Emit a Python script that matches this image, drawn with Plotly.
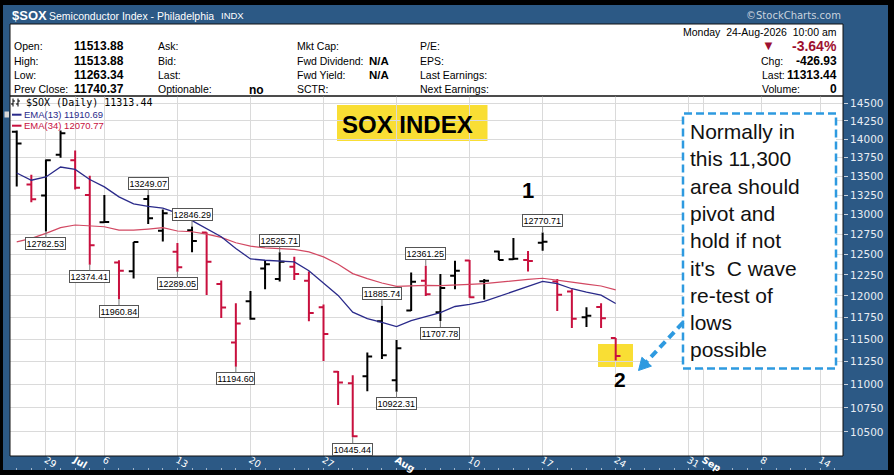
import math
import pandas as pd
import plotly.graph_objects as go

W, H = 894, 475

# daily bars ($SOX, Jun 25 - Aug 24 2026)
dates = ["2026-06-25", "2026-06-26", "2026-06-29", "2026-06-30", "2026-07-01", "2026-07-02",
         "2026-07-06", "2026-07-07", "2026-07-08", "2026-07-09", "2026-07-10",
         "2026-07-13", "2026-07-14", "2026-07-15", "2026-07-16", "2026-07-17",
         "2026-07-20", "2026-07-21", "2026-07-22", "2026-07-23", "2026-07-24",
         "2026-07-27", "2026-07-28", "2026-07-29", "2026-07-30", "2026-07-31",
         "2026-08-03", "2026-08-04", "2026-08-05", "2026-08-06", "2026-08-07",
         "2026-08-10", "2026-08-11", "2026-08-12", "2026-08-13", "2026-08-14",
         "2026-08-17", "2026-08-18", "2026-08-19", "2026-08-20", "2026-08-21",
         "2026-08-24"]
opens = [14100, 13387, 13244, 13786, 13710, 13252,
         12900, 12400, 12293, 13200, 12794,
         12532, 12800, 12770, 12140, 11464,
         11938, 12328, 12200, 12350, 12180,
         11867, 11140, 11014, 11090, 11704,
         11047, 11830, 12180, 11810, 12240,
         12425, 12175, 12534, 12440, 12430,
         12645, 12170, 12053, 11750, 11869,
         11513.88]
highs = [14118, 13517, 13721, 14118, 13843, 13502,
         13252, 12428, 12652, 13249.07, 13062,
         12640, 12846.29, 12775, 12183, 11914,
         12057, 12430, 12525.71, 12470, 12290,
         11900, 11148, 11101, 11350, 11885.74,
         11491, 12280, 12361.25, 12260, 12422,
         12430, 12200, 12545, 12702, 12540,
         12770.71, 12200, 12080, 11866, 11914,
         11513.88]
lows = [13362, 13157, 12782.53, 13743, 13322, 12374.41,
        12895, 11960.84, 12206, 12880, 12660,
        12289.05, 12525, 12010, 11742, 11194.60,
        11722, 12080, 12172, 12190, 11704,
        11256, 10780, 10445.44, 10928, 11280,
        10922.31, 11825, 12000, 11707.78, 12080,
        11980, 11957, 12430, 12432, 12290,
        12546, 11824, 11627, 11640, 11627,
        11263.34]
closes = [13938, 13197, 13710, 14080, 13345, 12614,
          12905, 12300, 12652, 12950, 13015,
          12344, 12664, 12410, 11863, 11679,
          11735, 12380, 12410, 12260, 11800,
          11560, 11021, 10455, 11307, 11320,
          11400, 12168, 12020, 12094, 12300,
          11985, 12180, 12432, 12445, 12420,
          12655, 12015, 11735, 11770, 11740.37,
          11313.44]
ema13 = [13540, 13444, 13488, 13620, 13587, 13454,
         13357, 13226, 13135, 13103, 13081,
         13016, 12921, 12824, 12718, 12573,
         12444, 12428, 12420, 12408, 12300,
         12150, 12006, 11810, 11736, 11693,
         11644, 11713, 11760, 11806, 11876,
         11900, 11935, 11994, 12054, 12113,
         12173, 12145, 12085, 12045, 12010,
         11910.69]
ema34 = [12655, 12698, 12761, 12832, 12866, 12857,
         12844, 12802, 12802, 12815, 12832,
         12790, 12781, 12752, 12711, 12643,
         12602, 12580, 12573, 12561, 12531,
         12469, 12380, 12266, 12206, 12153,
         12113, 12122, 12126, 12122, 12126,
         12137, 12146, 12165, 12185, 12197,
         12210, 12190, 12163, 12140, 12118,
         12070.77]

high_labels = ["2026-07-09", "2026-07-14", "2026-07-22", "2026-07-31", "2026-08-05", "2026-08-17"]
low_labels = ["2026-06-29", "2026-07-02", "2026-07-07", "2026-07-13", "2026-07-17",
              "2026-07-29", "2026-08-03", "2026-08-06"]

tick_dates = ["2026-06-29", "2026-07-01", "2026-07-06", "2026-07-13", "2026-07-20", "2026-07-27",
              "2026-08-03", "2026-08-10", "2026-08-17", "2026-08-24", "2026-08-31", "2026-09-01",
              "2026-09-08", "2026-09-14"]
tick_text = ["29", "<b>Jul</b>", "6", "13", "20", "27", "<b>Aug</b>", "10", "17", "24",
             "31", "<b>Sep</b>", "8", "14"]
price_ticks = list(range(10500, 14501, 250))

holidays = ["2026-07-03", "2026-09-07"]

# trading-day axis (no weekend / holiday gaps)
sessions = [d.strftime("%Y-%m-%d") for d in pd.bdate_range("2026-06-25", "2026-09-16")]
sessions = [d for d in sessions if d not in holidays]
pos = {d: i for i, d in enumerate(sessions)}
xs = [pos[d] for d in dates]

BLUE = "#2c5985"
RED = "#c8103e"
DARKRED = "#9e1030"
NAVY = "#2a2a8a"
ARIAL = "Arial, Liberation Sans, sans-serif"
VERDANA = "DejaVu Sans, Verdana, sans-serif"


def px(x):
    return x / W


def py(y):
    return 1 - y / H


up = [True] + [closes[i] >= closes[i - 1] for i in range(1, len(closes))]

fig = go.Figure()
for flag, col in [(True, "black"), (False, RED)]:
    idx = [i for i in range(len(dates)) if up[i] == flag]
    fig.add_trace(go.Ohlc(
        x=[xs[i] for i in idx],
        open=[opens[i] for i in idx],
        high=[highs[i] for i in idx],
        low=[lows[i] for i in idx],
        close=[closes[i] for i in idx],
        increasing=dict(line=dict(color=col, width=2)),
        decreasing=dict(line=dict(color=col, width=2)),
        tickwidth=0.33,
        showlegend=False,
        hoverinfo="skip",
    ))

fig.add_trace(go.Scatter(x=xs, y=ema34, mode="lines", line=dict(color="#d24862", width=1.2),
                         showlegend=False, hoverinfo="skip"))
fig.add_trace(go.Scatter(x=xs, y=ema13, mode="lines", line=dict(color=NAVY, width=1.3),
                         showlegend=False, hoverinfo="skip"))
# invisible helper trace so the daily tick axis along the band's lower edge gets drawn
fig.add_trace(go.Scatter(x=[xs[0]], y=[closes[0]], xaxis="x2", mode="markers",
                         marker=dict(opacity=0), showlegend=False, hoverinfo="skip"))

shapes = []
ann = []


def rect(x0, y0, x1, y1, fill, line=None, layer="below", width=1, dash="solid"):
    shapes.append(dict(type="rect", xref="paper", yref="paper",
                       x0=px(x0), x1=px(x1), y0=py(y1), y1=py(y0),
                       fillcolor=fill, layer=layer,
                       line=dict(color=line or fill, width=width if line else 0, dash=dash)))


def txt(x, y, s, size=10.5, color="black", bold=False, anchor="left", family=ARIAL):
    ann.append(dict(xref="paper", yref="paper", x=px(x), y=py(y), text=f"<b>{s}</b>" if bold else s,
                    showarrow=False, xanchor=anchor, yanchor="middle",
                    font=dict(size=size, color=color, family=family)))


# outer frame and header panel
rect(0, 0, W, 5, "black")
rect(0, 0, 3, H, "black")
rect(888, 0, W, H, "black")
rect(0, 470, W, H, "black")
rect(10, 24, 843, 96, "white", line="#111111")
rect(337, 105, 487.5, 141, "rgb(249,222,52)")
rect(598, 344, 633, 367, "rgb(249,222,52)")
rect(683, 113.5, 836, 368.5, "white", line="#2e9ae0", layer="above", width=2.5, dash="8px,4px")
rect(10, 96, 843, 456, "rgba(0,0,0,0)", line="#111111", layer="above")

# title bar
txt(9.5, 15.5, "$SOX", size=13, color="white", bold=True)
txt(47, 15.5, "Semiconductor Index - Philadelphia", size=10.5, color="white")
txt(219, 16, "INDX", size=9.5, color="white")
txt(843, 16, "©StockCharts.com", size=10, color="#c9d3de", anchor="right", family=VERDANA)

# quote block
rows = [46, 60.5, 75, 89.3]
prev_close = closes[-2]
last = closes[-1]
chg = last - prev_close
for y, lab, val in zip(rows, ["Open:", "High:", "Low:", "Prev Close:"],
                       [opens[-1], highs[-1], lows[-1], prev_close]):
    txt(12, y, lab)
    txt(71.5, y, f"{val:.2f}", size=12, bold=True)
for y, lab in zip(rows, ["Ask:", "Bid:", "Last:", "Optionable:"]):
    txt(156, y, lab)
txt(247, rows[3] + 0.5, "no", size=12, bold=True)
for y, lab in zip(rows, ["Mkt Cap:", "Fwd Dividend:", "Fwd Yield:", "SCTR:"]):
    txt(294.5, y, lab)
txt(366.5, rows[1], "N/A", size=11.5, bold=True)
txt(366.5, rows[2], "N/A", size=11.5, bold=True)
for y, lab in zip(rows, ["P/E:", "EPS:", "Last Earnings:", "Next Earnings:"]):
    txt(418, y, lab)

txt(838.5, 31.7, "Monday\u00a0 24-Aug-2026\u00a0 10:00 am", anchor="right")
txt(768, 46, "▼", size=13, color=DARKRED, anchor="center")
txt(838.5, 46, f"{chg / prev_close * 100:.2f}%", size=14, color=DARKRED, bold=True, anchor="right")
txt(759, rows[1], "Chg:")
txt(838.5, rows[1], f"{chg:.2f}", size=12, bold=True, anchor="right")
txt(760, rows[2], "Last:")
txt(838.5, rows[2], f"{last:.2f}", size=12, bold=True, anchor="right")
txt(760, rows[3], "Volume:")
txt(838.5, rows[3], "0", size=12, bold=True, anchor="right")

# in-chart legend
for bx in (13, 18):
    shapes.append(dict(type="line", xref="paper", yref="paper", x0=px(bx), x1=px(bx),
                       y0=py(106.5), y1=py(98.5), line=dict(color="black", width=1), layer="above"))
    shapes.append(dict(type="line", xref="paper", yref="paper", x0=px(bx - 2), x1=px(bx),
                       y0=py(104), y1=py(104), line=dict(color="black", width=1), layer="above"))
    shapes.append(dict(type="line", xref="paper", yref="paper", x0=px(bx), x1=px(bx + 2),
                       y0=py(101), y1=py(101), line=dict(color="black", width=1), layer="above"))
txt(24, 102.5, f"$SOX (Daily) {last:.2f}", size=10, family="DejaVu Sans Mono, monospace")
for y, col, lab, val in [(114.7, NAVY, "EMA(13)", ema13[-1]), (125.7, RED, "EMA(34)", ema34[-1])]:
    shapes.append(dict(type="line", xref="paper", yref="paper", x0=px(12), x1=px(21.5),
                       y0=py(y), y1=py(y), line=dict(color=col, width=2), layer="above"))
    txt(21.5, y, f"{lab} {val:.2f}", size=9.5, color=col)
rect(4.5, 111.5, 9, 117.5, "#d8d8d8")

# chart notes
txt(407, 124, "SOX INDEX", size=24, bold=True, anchor="center")
txt(528, 190, "1", size=22, bold=True, anchor="center")
txt(620, 379, "2", size=21, bold=True, anchor="center")
note = ["Normally in", "this 11,300", "area should", "pivot and", "hold if not",
        "it's\u00a0 C wave", "re-test of", "lows", "possible"]
ann.append(dict(xref="paper", yref="paper", x=px(688), y=py(240), text="<br>".join(note),
                showarrow=False, xanchor="left", yanchor="middle", align="left",
                font=dict(size=21, color="#111111", family=ARIAL)))

# dashed arrow to point 2
tip = (638.5, 370.5)
tail = (683, 322.5)
dx, dy = tip[0] - tail[0], tip[1] - tail[1]
ln = math.hypot(dx, dy)
ux, uy = dx / ln, dy / ln
bx, by = tip[0] - 12 * ux, tip[1] - 12 * uy
shapes.append(dict(type="line", xref="paper", yref="paper", x0=px(tail[0]), y0=py(tail[1]),
                   x1=px(bx), y1=py(by), line=dict(color="#2e9ae0", width=4, dash="8px,5px"),
                   layer="above"))
p1 = (bx + 6.5 * uy, by - 6.5 * ux)
p2 = (bx - 6.5 * uy, by + 6.5 * ux)
path = "M {} {} L {} {} L {} {} Z".format(px(tip[0]), py(tip[1]), px(p1[0]), py(p1[1]),
                                           px(p2[0]), py(p2[1]))
shapes.append(dict(type="path", xref="paper", yref="paper", path=path, fillcolor="#2e9ae0",
                   line=dict(color="#2e9ae0", width=1), layer="above"))

# swing high / low value tags
for group, vals, off in [(high_labels, highs, -12), (low_labels, lows, 12)]:
    for d in group:
        v = vals[dates.index(d)]
        ann.append(dict(x=pos[d], y=math.log10(v), xref="x", yref="y", text=f"{v:.2f}",
                        showarrow=True, arrowhead=0, arrowwidth=1, arrowcolor="#777777",
                        ax=0, ay=off, standoff=0, bgcolor="white", bordercolor="#555555",
                        borderwidth=1, borderpad=0.5,
                        font=dict(size=9, color="black", family=ARIAL)))

x_first = -0.46
x_last = 56.56
fig.update_layout(
    width=W, height=H, autosize=False,
    margin=dict(l=0, r=0, t=0, b=0),
    paper_bgcolor=BLUE, plot_bgcolor="white",
    shapes=shapes, annotations=ann, showlegend=False,
    font=dict(family=ARIAL),
    xaxis=dict(
        domain=[px(10), px(843)], range=[x_first, x_last], type="linear",
        tickvals=[pos[d] for d in tick_dates], ticktext=tick_text,
        tickfont=dict(size=9.5, color="white", family=VERDANA),
        ticks="", ticklabelstandoff=-4,
        showgrid=True, gridcolor="#dadada", gridwidth=1,
        zeroline=False, showline=False, rangeslider=dict(visible=False),
        fixedrange=True,
    ),
    xaxis2=dict(
        domain=[px(10), px(843)], range=[x_first, x_last], overlaying="x",
        anchor="free", position=py(470), side="bottom",
        tick0=0, dtick=1, ticks="inside", ticklen=2, tickcolor="#9fb3c8",
        showticklabels=False, showgrid=False, zeroline=False, showline=False,
        fixedrange=True,
    ),
    yaxis=dict(
        domain=[py(456), py(96)], type="log", side="right",
        range=[math.log10(10254), math.log10(14604)],
        tickvals=price_ticks, ticktext=[str(v) for v in price_ticks],
        tickfont=dict(size=10.5, color="#e8edf3", family=VERDANA),
        ticks="outside", ticklen=4, tickcolor="#c8d2dc",
        showgrid=True, gridcolor="#dadada", gridwidth=1,
        zeroline=False, showline=False, fixedrange=True,
    ),
)

# page body has a default 8px margin; drop it so the figure sits at the window corner
fig.write_html("out.html", config={"displayModeBar": False},
               post_script="document.body.style.margin='0';")
